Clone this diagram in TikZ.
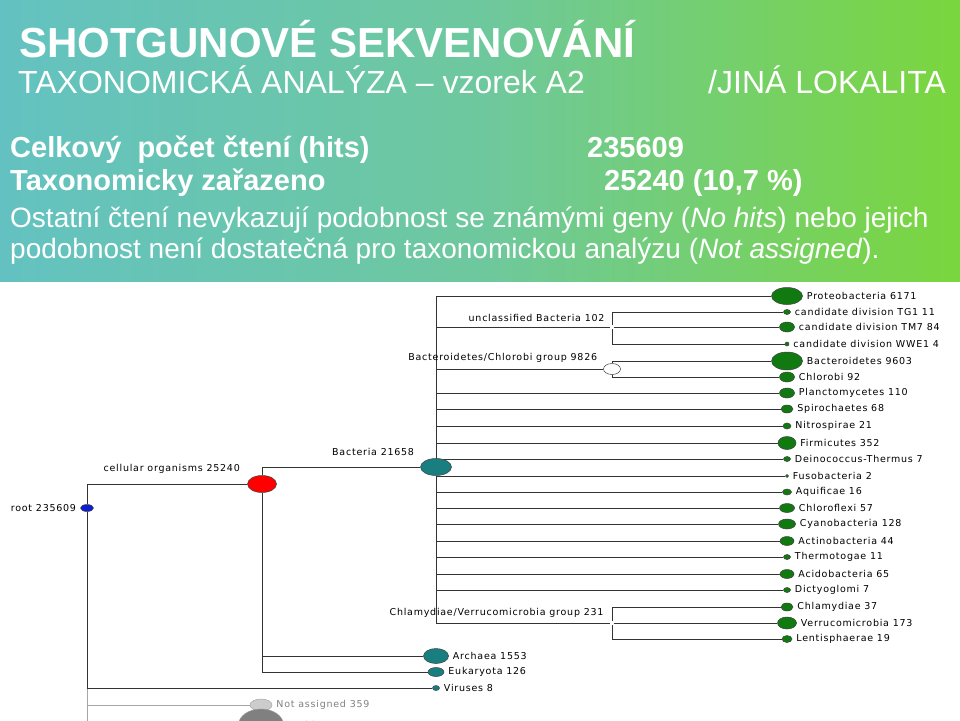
\documentclass[tikz,border=0pt]{standalone}
\usepackage{fontspec}
\setmainfont{Liberation Sans}
\newfontfamily\treefont[LetterSpace=8]{DejaVu Sans}
\usetikzlibrary{shapes.geometric,backgrounds}

\definecolor{hdblue}{RGB}{88,188,228}
\definecolor{hdmid}{RGB}{110,200,158}
\definecolor{hdgreen}{RGB}{126,218,34}
\definecolor{leafgreen}{RGB}{16,122,16}
\definecolor{taxteal}{RGB}{24,126,128}
\definecolor{rootblue}{RGB}{14,30,210}
\pgfdeclarehorizontalshading{band}{100bp}{color(0bp)=(hdblue); color(50bp)=(hdmid); color(82bp)=(hdgreen); color(100bp)=(hdgreen)}

\tikzset{
  taxon/.style={ellipse, draw=black!75, line width=0.5pt, inner sep=0pt},
  sz/.style 2 args={minimum width=#1pt, minimum height=#2pt},
  leaf/.style={taxon, fill=leafgreen},
  inner/.style={taxon, fill=taxteal},
  lab/.style={font=\treefont\fontsize{9.5}{11}\selectfont, inner sep=1pt, text=black},
  branch/.style={draw=black!80, line width=0.9pt},
  hd/.style={anchor=base west, text=white, inner sep=0pt}
}

\begin{document}
\begin{tikzpicture}[x=1pt, y=-1pt, label distance=3pt]
  \useasboundingbox (0,0) rectangle (960,720);
  \clip (0,0) rectangle (960,720);
  \shade[shading=band] (0,0) rectangle (960,281);

  \node[hd, font=\bfseries\fontsize{42}{42}\selectfont] (title) at (19,57) {SHOTGUNOVÉ SEKVENOVÁNÍ};
  \node[hd, font=\fontsize{32}{32}\selectfont] (sample) at (18,93) {TAXONOMICKÁ ANALÝZA – vzorek A2};
  \node[hd, font=\fontsize{32}{32}\selectfont] (site) at (708,93) {/JINÁ LOKALITA};
  \node[hd, font=\bfseries\fontsize{29}{29}\selectfont] (hits) at (10,157) {Celkový\ \ počet čtení (hits)};
  \node[hd, font=\bfseries\fontsize{29}{29}\selectfont] (hitsnum) at (587,157) {235609};
  \node[hd, font=\bfseries\fontsize{29}{29}\selectfont] (assig) at (10,190) {Taxonomicky zařazeno};
  \node[hd, font=\bfseries\fontsize{29}{29}\selectfont] (assignum) at (604,190) {25240 (10,7 \%)};
  \node[hd, font=\fontsize{28}{28}\selectfont] (restone) at (10,227) {Ostatní čtení nevykazují podobnost se známými geny (\textit{No hits}) nebo jejich};
  \node[hd, font=\fontsize{28}{28}\selectfont] (resttwo) at (10,258) {podobnost není dostatečná pro taxonomickou analýzu (\textit{Not assigned}).};

  \node[taxon, fill=rootblue, sz={13}{7}, label={[lab]left:root 235609}] (root) at (87,508) {};
  \node[taxon, fill=red, sz={29}{17}, label={[lab, anchor=south east, xshift=-8pt, yshift=2pt]north west:cellular organisms 25240}] (cell) at (262,484) {};
  \node[inner, sz={31}{17}, label={[lab, anchor=south east, xshift=-7pt, yshift=3pt]north west:Bacteria 21658}] (bact) at (436,467) {};
  \node[inner, sz={25}{15}, label={[lab]right:Archaea 1553}] (arch) at (436,656) {};
  \node[inner, sz={16}{9}, label={[lab]right:Eukaryota 126}] (euk) at (436,672) {};
  \node[inner, sz={7}{5}, label={[lab]right:Viruses 8}] (vir) at (436,688) {};
  \node[taxon, draw=gray!70, fill=gray!40, sz={22}{12}, label={[lab, text=gray]right:Not assigned 359}] (na) at (261,705) {};
  \node[taxon, draw=gray!80, fill=gray, sz={45}{32}, label={[lab, text=gray]right:No hits 209971}] (nohits) at (261,725) {};

  \node[taxon, draw=none, fill=white, sz={3}{3}, label={[lab, anchor=south east, xshift=-3pt, yshift=1pt]north west:unclassified Bacteria 102}] (ub) at (612,327) {};
  \node[taxon, fill=white, sz={17}{11}, label={[lab, anchor=south east, xshift=-5pt]north west:Bacteroidetes/Chlorobi group 9826}] (bc) at (612,369) {};
  \node[taxon, draw=none, fill=white, sz={3}{3}, label={[lab, anchor=south east, xshift=-4pt, yshift=1pt]north west:Chlamydiae/Verrucomicrobia group 231}] (cv) at (612,623) {};

  \node[leaf, sz={31}{17}, label={[lab]right:Proteobacteria 6171}] (proteo) at (787,296) {};
  \node[leaf, sz={7}{5}, label={[lab]right:candidate division TG1 11}] (tgone) at (787,312) {};
  \node[leaf, sz={15}{10}, label={[lab]right:candidate division TM7 84}] (tmseven) at (787,327) {};
  \node[leaf, sz={4}{4}, label={[lab]right:candidate division WWE1 4}] (wwe) at (787,344) {};
  \node[leaf, sz={31}{18}, label={[lab]right:Bacteroidetes 9603}] (bacteroid) at (787,361) {};
  \node[leaf, sz={15}{10}, label={[lab]right:Chlorobi 92}] (chlorobi) at (787,377) {};
  \node[leaf, sz={15}{10}, label={[lab]right:Planctomycetes 110}] (plancto) at (787,393) {};
  \node[leaf, sz={12}{8}, label={[lab]right:Spirochaetes 68}] (spiro) at (787,409) {};
  \node[leaf, sz={8}{6}, label={[lab]right:Nitrospirae 21}] (nitro) at (787,426) {};
  \node[leaf, sz={18}{13}, label={[lab]right:Firmicutes 352}] (firmi) at (787,443) {};
  \node[leaf, sz={7}{5}, label={[lab]right:Deinococcus-Thermus 7}] (deino) at (787,459) {};
  \node[leaf, sz={3}{3}, label={[lab]right:Fusobacteria 2}] (fuso) at (787,476) {};
  \node[leaf, sz={9}{6}, label={[lab]right:Aquificae 16}] (aquif) at (787,492) {};
  \node[leaf, sz={15}{9}, label={[lab]right:Chloroflexi 57}] (chlorof) at (787,508) {};
  \node[leaf, sz={17}{10}, label={[lab]right:Cyanobacteria 128}] (cyano) at (787,524) {};
  \node[leaf, sz={14}{9}, label={[lab]right:Actinobacteria 44}] (actino) at (787,541) {};
  \node[leaf, sz={7}{5}, label={[lab]right:Thermotogae 11}] (thermo) at (787,557) {};
  \node[leaf, sz={14}{9}, label={[lab]right:Acidobacteria 65}] (acido) at (787,574) {};
  \node[leaf, sz={7}{5}, label={[lab]right:Dictyoglomi 7}] (dictyo) at (787,590) {};
  \node[leaf, sz={12}{8}, label={[lab]right:Chlamydiae 37}] (chlamy) at (787,607) {};
  \node[leaf, sz={19}{12}, label={[lab]right:Verrucomicrobia 173}] (verruco) at (787,623) {};
  \node[leaf, sz={10}{7}, label={[lab]right:Lentisphaerae 19}] (lentis) at (787,639) {};

  \begin{scope}[on background layer]
    \draw[branch, draw=gray!70] (root) |- (na);
    \draw[branch, draw=gray!70] (root) |- (nohits);
    \draw[branch] (root) |- (cell);
    \draw[branch] (root) |- (vir);
    \draw[branch] (cell) |- (bact);
    \draw[branch] (cell) |- (arch);
    \draw[branch] (cell) |- (euk);
    \foreach \t in {proteo,ub,bc,plancto,spiro,nitro,firmi,deino,fuso,aquif,chlorof,cyano,actino,thermo,acido,dictyo,cv}
      \draw[branch] (bact) |- (\t);
    \draw[branch] (ub) |- (tgone);
    \draw[branch] (ub) -- (tmseven);
    \draw[branch] (ub) |- (wwe);
    \draw[branch] (bc) |- (bacteroid);
    \draw[branch] (bc) |- (chlorobi);
    \draw[branch] (cv) |- (chlamy);
    \draw[branch] (cv) -- (verruco);
    \draw[branch] (cv) |- (lentis);
  \end{scope}
\end{tikzpicture}
\end{document}
